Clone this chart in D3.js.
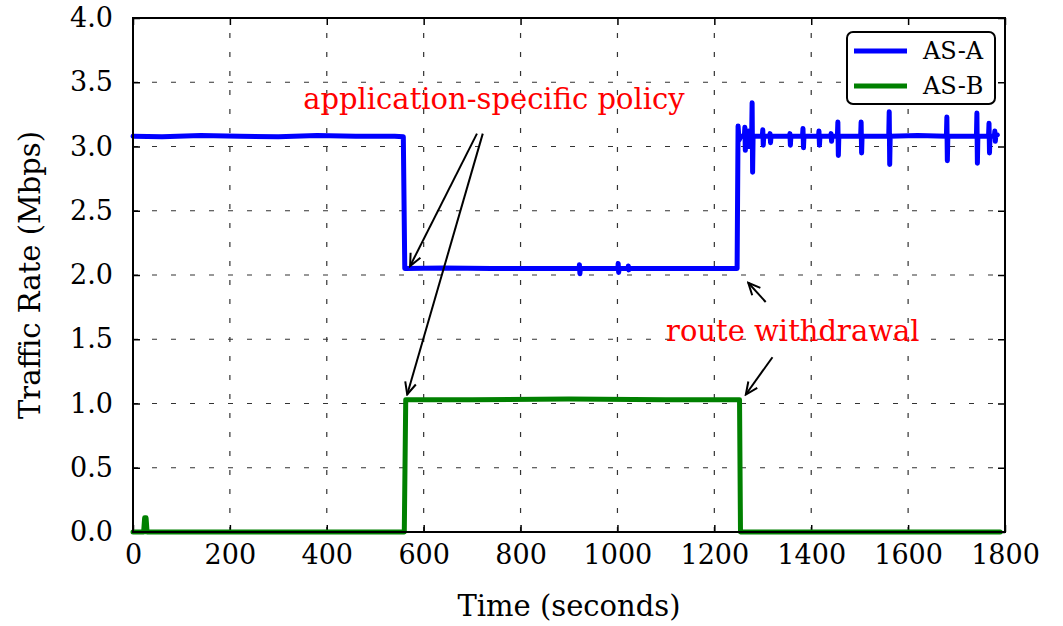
<!DOCTYPE html>
<meta charset="utf-8">
<style>

body {
  margin: 0;
  background: #fff;
}

text {
  font-family: "DejaVu Serif", serif;
}

.grid line {
  stroke: #333;
  stroke-width: 1.2;
  stroke-dasharray: 5 14;
}

.axis text {
  font-size: 27px;
  fill: #000;
}

.axis line {
  stroke: #000;
  stroke-width: 1.5;
}

.series {
  fill: none;
  stroke-linejoin: round;
  stroke-linecap: round;
}

</style>
<body>
<script src="https://d3js.org/d3.v7.min.js"></script>
<script>

// tick values
const xTicks = [0, 200, 400, 600, 800, 1000, 1200, 1400, 1600, 1800];
const yTicks = [0, 0.5, 1, 1.5, 2, 2.5, 3, 3.5, 4];

// AS-A traffic rate, [time (s), Mbps]
const asA = [
  [0, 3.08], [60, 3.075], [140, 3.085], [220, 3.08], [300, 3.075], [380, 3.085],
  [460, 3.08], [540, 3.08], [558, 3.075],
  [561, 2.05], [640, 2.055], [740, 2.05], [840, 2.05], [921, 2.05],
  [921.5, 2.08], [922.5, 2.01], [923.5, 2.05], [1001, 2.05], [1001.5, 2.09],
  [1002.5, 2.02], [1003.5, 2.05], [1022, 2.05], [1022.5, 2.07], [1023.5, 2.04],
  [1024.5, 2.05], [1120, 2.05], [1247, 2.05],
  [1249, 3.16], [1251, 3.05], [1255, 3.08],
  [1262, 3.08], [1263, 3.15], [1264, 2.97], [1265, 3.08],
  [1269, 3.08], [1270, 3.12], [1271, 3.00], [1272, 3.08],
  [1277, 3.08], [1278, 3.34], [1279, 2.80], [1280, 3.08],
  [1299, 3.08], [1300, 3.13], [1301, 3.01], [1302, 3.08],
  [1314, 3.08], [1315, 3.10], [1316, 3.03], [1317, 3.08],
  [1355, 3.08], [1356, 3.10], [1357, 3.01], [1358, 3.08],
  [1382, 3.08], [1383, 3.14], [1384, 2.99], [1385, 3.08],
  [1415, 3.08], [1416, 3.12], [1417, 3.01], [1418, 3.08],
  [1440, 3.08], [1441, 3.10], [1442, 3.04], [1443, 3.08],
  [1454, 3.08], [1455, 3.19], [1456, 2.93], [1457, 3.08],
  [1502, 3.08], [1503, 3.19], [1504, 2.95], [1505, 3.08],
  [1560, 3.08], [1561, 3.27], [1562, 2.86], [1563, 3.08],
  [1620, 3.085], [1679, 3.08], [1680, 3.23], [1681, 2.89], [1682, 3.08],
  [1741, 3.08], [1742, 3.26], [1743, 2.87], [1744, 3.08],
  [1766, 3.08], [1767, 3.18], [1768, 2.95], [1769, 3.08],
  [1778, 3.08], [1779, 3.12], [1780, 3.04], [1781, 3.08], [1784, 3.09]
];

// AS-B traffic rate, [time (s), Mbps]
const asB = [
  [0, 0], [22, 0], [24, 0.11], [27, 0.11], [29, 0],
  [560, 0], [563, 1.03], [700, 1.03], [900, 1.035], [1100, 1.03],
  [1252, 1.03], [1254, 0], [1790, 0]
];

const seriesNames = ["AS-A", "AS-B"];
const seriesColors = ["#0000ff", "#008000"];

// annotations: text position and arrow [from, to] in data units
const notes = [
  {text: "application-specific policy", at: [745, 3.29],
   arrows: [[[710, 3.10], [572, 2.07]], [[722, 3.10], [566, 1.07]]]},
  {text: "route withdrawal", at: [1362, 1.49],
   arrows: [[[1306, 1.79], [1270, 1.94]], [[1320, 1.36], [1265, 1.07]]]}
];

let width = 1063,
    height = 626,
    margin = {top: 18, right: 58, bottom: 94, left: 133},
    w = width - margin.left - margin.right,
    h = height - margin.top - margin.bottom;

let svg = d3.select("body").append("svg")
    .attr("width", width)
    .attr("height", height);

let defs = svg.append("defs");
defs.append("marker")
    .attr("id", "head")
    .attr("markerUnits", "userSpaceOnUse")
    .attr("viewBox", "-14 -8 16 16")
    .attr("refX", 0)
    .attr("refY", 0)
    .attr("markerWidth", 16)
    .attr("markerHeight", 16)
    .attr("orient", "auto")
  .append("path")
    .attr("d", "M-12,-5.5L0,0L-12,5.5")
    .attr("fill", "none")
    .attr("stroke", "#000")
    .attr("stroke-width", 2);

let g = svg.append("g")
    .attr("transform", "translate(" + margin.left + "," + margin.top + ")");

let x = d3.scaleLinear().domain([0, 1800]).range([0, w]);
let y = d3.scaleLinear().domain([0, 4]).range([h, 0]);

// grid
let grid = g.append("g").attr("class", "grid");
grid.selectAll(".gx")
    .data(xTicks.slice(1, -1))
  .enter().append("line")
    .attr("x1", d => x(d)).attr("x2", d => x(d))
    .attr("y1", h).attr("y2", 0);
grid.selectAll(".gy")
    .data(yTicks.slice(1, -1))
  .enter().append("line")
    .attr("x1", 0).attr("x2", w)
    .attr("y1", d => y(d)).attr("y2", d => y(d));

// axes, ticks pointing inward
g.append("g")
    .attr("class", "axis")
    .attr("transform", "translate(0," + h + ")")
    .call(d3.axisBottom(x).tickValues(xTicks).tickSizeInner(-7).tickSizeOuter(0).tickPadding(13).tickFormat(d3.format("d")));
g.append("g")
    .attr("class", "axis")
    .call(d3.axisTop(x).tickValues(xTicks).tickSizeInner(-7).tickSizeOuter(0).tickFormat(""));
g.append("g")
    .attr("class", "axis")
    .call(d3.axisLeft(y).tickValues(yTicks).tickSizeInner(-7).tickSizeOuter(0).tickPadding(20).tickFormat(d3.format(".1f")));
g.append("g")
    .attr("class", "axis")
    .attr("transform", "translate(" + w + ",0)")
    .call(d3.axisRight(y).tickValues(yTicks).tickSizeInner(-7).tickSizeOuter(0).tickFormat(""));
g.selectAll(".axis .domain").remove();

// lines
let line = d3.line()
    .x(d => x(d[0]))
    .y(d => y(d[1]));

[asA, asB].forEach(function(data, i) {
  g.append("path")
      .datum(data)
      .attr("class", "series")
      .attr("stroke", seriesColors[i])
      .attr("stroke-width", 5)
      .attr("d", line);
});

// frame
g.append("rect")
    .attr("width", w)
    .attr("height", h)
    .attr("fill", "none")
    .attr("stroke", "#000")
    .attr("stroke-width", 2);

// annotations
notes.forEach(function(n) {
  g.append("text")
      .attr("x", x(n.at[0]))
      .attr("y", y(n.at[1]))
      .attr("text-anchor", "middle")
      .attr("fill", "#ff0000")
      .style("font-size", "29px")
      .text(n.text);
  n.arrows.forEach(function(a) {
    g.append("line")
        .attr("x1", x(a[0][0])).attr("y1", y(a[0][1]))
        .attr("x2", x(a[1][0])).attr("y2", y(a[1][1]))
        .attr("stroke", "#000")
        .attr("stroke-width", 2)
        .attr("marker-end", "url(#head)");
  });
});

// legend
let legend = g.append("g")
    .attr("transform", "translate(" + (w - 158) + ",14)");
legend.append("rect")
    .attr("width", 148)
    .attr("height", 72)
    .attr("rx", 6)
    .attr("fill", "#fff")
    .attr("stroke", "#000")
    .attr("stroke-width", 2);
seriesNames.forEach(function(name, i) {
  let row = legend.append("g").attr("transform", "translate(0," + (19 + i * 35) + ")");
  row.append("line")
      .attr("x1", 7).attr("x2", 60)
      .attr("stroke", seriesColors[i])
      .attr("stroke-width", 5);
  row.append("text")
      .attr("x", 76)
      .attr("dy", "0.35em")
      .style("font-size", "24px")
      .text(name);
});

// axis titles
svg.append("text")
    .attr("x", margin.left + w / 2)
    .attr("y", 616)
    .attr("text-anchor", "middle")
    .style("font-size", "29px")
    .text("Time (seconds)");
svg.append("text")
    .attr("transform", "translate(40," + (margin.top + h / 2) + ")rotate(-90)")
    .attr("text-anchor", "middle")
    .style("font-size", "29px")
    .text("Traffic Rate (Mbps)");

</script>
